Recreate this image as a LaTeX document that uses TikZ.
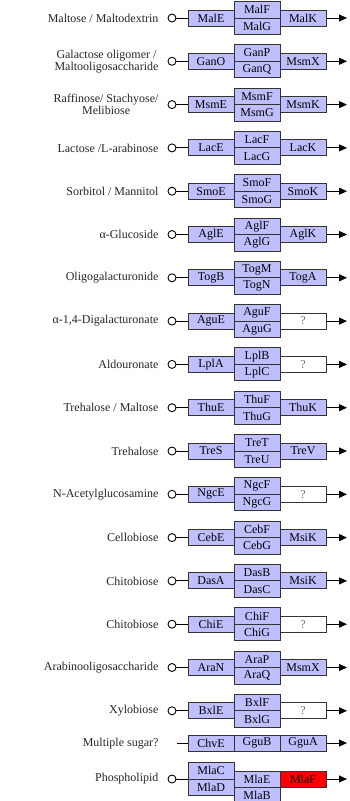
\documentclass[tikz,border=0pt]{standalone}
\usepackage{fontspec}
\setmainfont{Liberation Serif}
\usepackage{xcolor}
\usepackage{tikz}
\usetikzlibrary{positioning, arrows.meta}

\definecolor{keggblue}{HTML}{BFBFFF}
\definecolor{keggred}{HTML}{FF0000}

\begin{document}
\begin{tikzpicture}[x=1pt, y=-1pt,
    font=\fontsize{12}{10}\selectfont,
    sub/.style={draw=black!80, fill=keggblue, line width=0.9pt, minimum width=46pt, minimum height=16pt, inner sep=0pt, outer sep=0pt},
    half/.style={sub, minimum height=16.5pt},
    qbox/.style={sub, fill=white, text=black!55},
    redbox/.style={sub, fill=keggred},
    port/.style={circle, draw=black, fill=white, line width=0.9pt, minimum size=8pt, inner sep=0pt},
    lab/.style={anchor=east, align=center, text=black!85},
    link/.style={line width=0.9pt},
    flow/.style={line width=0.9pt, -{Triangle[length=8pt,width=7pt]}}]
    \useasboundingbox (0,0) rectangle (350,801);
    % ABC transporters: substrate, binding protein, permeases, ATPase
    \foreach \i/\sname/\pe/\pf/\pg/\pk/\pst in {
        1/{Maltose / Maltodextrin}/MalE/MalF/MalG/MalK/sub,
        2/{Galactose oligomer /\\Maltooligosaccharide}/GanO/GanP/GanQ/MsmX/sub,
        3/{Raffinose/ Stachyose/\\Melibiose}/MsmE/MsmF/MsmG/MsmK/sub,
        4/{Lactose /L-arabinose}/LacE/LacF/LacG/LacK/sub,
        5/{Sorbitol / Mannitol}/SmoE/SmoF/SmoG/SmoK/sub,
        6/{α-Glucoside}/AglE/AglF/AglG/AglK/sub,
        7/Oligogalacturonide/TogB/TogM/TogN/TogA/sub,
        8/{α-1,4-Digalacturonate}/AguE/AguF/AguG/?/qbox,
        9/Aldouronate/LplA/LplB/LplC/?/qbox,
        10/{Trehalose / Maltose}/ThuE/ThuF/ThuG/ThuK/sub,
        11/Trehalose/TreS/TreT/TreU/TreV/sub,
        12/N-Acetylglucosamine/NgcE/NgcF/NgcG/?/qbox,
        13/Cellobiose/CebE/CebF/CebG/MsiK/sub,
        14/Chitobiose/DasA/DasB/DasC/MsiK/sub,
        15/Chitobiose/ChiE/ChiF/ChiG/?/qbox,
        16/Arabinooligosaccharide/AraN/AraP/AraQ/MsmX/sub,
        17/Xylobiose/BxlE/BxlF/BxlG/?/qbox} {
      \pgfmathsetmacro{\y}{18+(\i-1)*43.3}
      \node[lab] (l\i) at (162,\y) {\sname};
      \node[port] (c\i) at (172,\y) {};
      \node[sub] (e\i) at (211,\y) {\pe};
      \node[half] (f\i) at (257,\y-8.25) {\pf};
      \node[half] (g\i) at (257,\y+8.25) {\pg};
      \node[\pst] (k\i) at (303,\y) {\pk};
      \coordinate (t\i) at (347,\y);
      \draw[link] (c\i) -- (e\i);
      \draw[flow] (k\i) -- (t\i);
    }

    % multiple sugar
    \node[lab] (lms) at (162,744) {Multiple sugar?};
    \coordinate (sms) at (177,743);
    \node[sub] (chvE) at (211,743) {ChvE};
    \node[sub] (gguB) at (257,743) {GguB};
    \node[sub] (gguA) at (303,743) {GguA};
    \coordinate (tms) at (347,743);
    \draw[link] (sms) -- (chvE);
    \draw[flow] (gguA) -- (tms);

    % phospholipid
    \node[lab] (lpl) at (162,779) {Phospholipid};
    \node[port] (cpl) at (172,779) {};
    \node[half] (mlaC) at (211,770.75) {MlaC};
    \node[half] (mlaD) at (211,787.25) {MlaD};
    \node[sub] (mlaE) at (257,779) {MlaE};
    \node[sub] (mlaB) at (257,795) {MlaB};
    \node[redbox] (mlaF) at (303,779) {MlaF};
    \coordinate (tpl) at (347,779);
    \draw[link] (cpl) -- (mlaC.south west);
    \draw[flow] (mlaF) -- (tpl);
\end{tikzpicture}
\end{document}
